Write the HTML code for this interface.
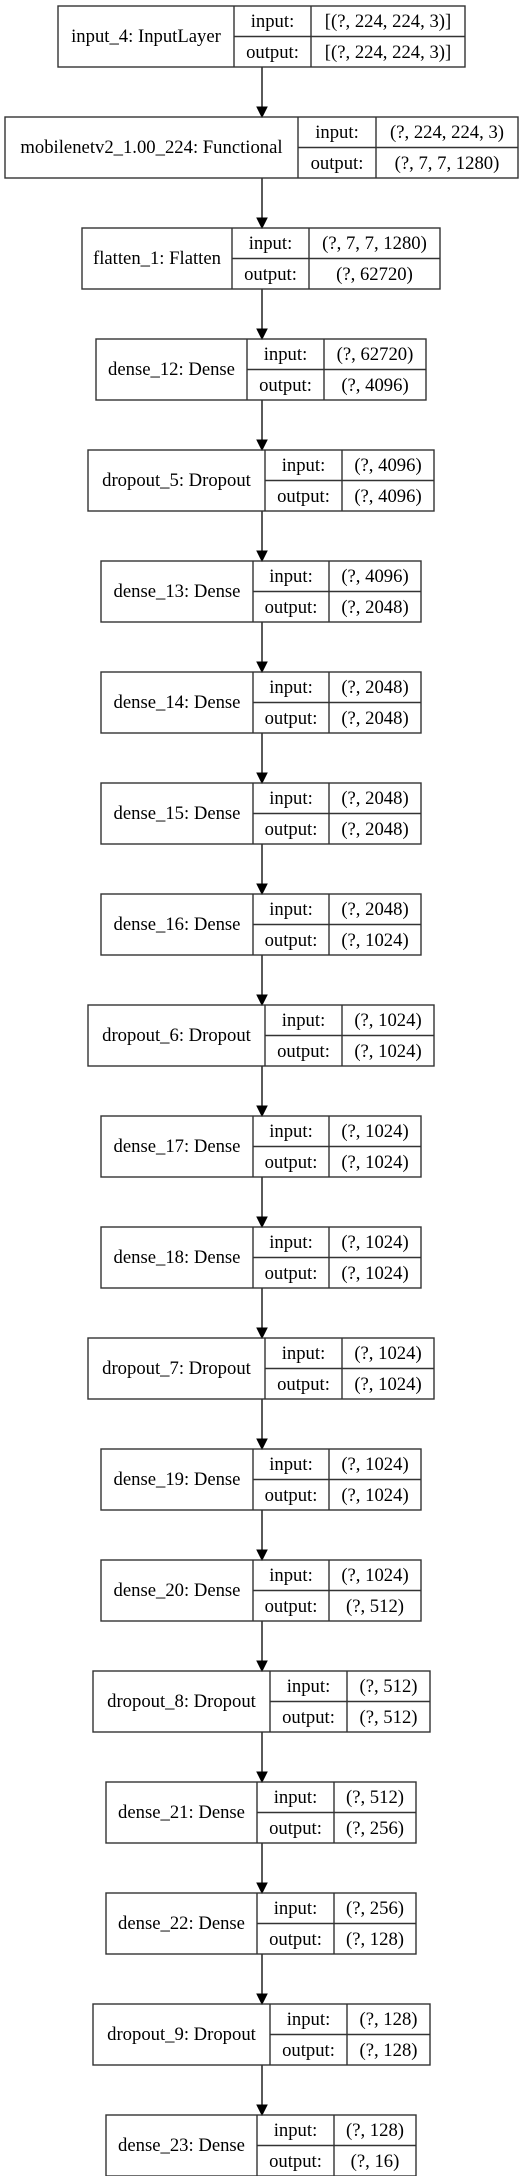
<!DOCTYPE html>
<html><head><meta charset="utf-8"><style>
html,body{margin:0;padding:0;background:#fff}
svg{display:block}
text{font-family:"Liberation Serif",serif;font-size:18.67px;fill:#000}
.b rect,.b line{stroke:#333;stroke-width:1.4;fill:none}
.a line{stroke:#000;stroke-width:1.3}
.a polygon{fill:#000;stroke:#000;stroke-width:1}
</style></head><body>
<svg width="525" height="2176" viewBox="0 0 525 2176" xmlns="http://www.w3.org/2000/svg">
<g class="a">
<line x1="262" y1="67" x2="262" y2="107"/><polygon points="257,107 267,107 262,117"/>
<line x1="262" y1="178" x2="262" y2="218"/><polygon points="257,218 267,218 262,228"/>
<line x1="262" y1="289" x2="262" y2="329"/><polygon points="257,329 267,329 262,339"/>
<line x1="262" y1="400" x2="262" y2="440"/><polygon points="257,440 267,440 262,450"/>
<line x1="262" y1="511" x2="262" y2="551"/><polygon points="257,551 267,551 262,561"/>
<line x1="262" y1="622" x2="262" y2="662"/><polygon points="257,662 267,662 262,672"/>
<line x1="262" y1="733" x2="262" y2="773"/><polygon points="257,773 267,773 262,783"/>
<line x1="262" y1="844" x2="262" y2="884"/><polygon points="257,884 267,884 262,894"/>
<line x1="262" y1="955" x2="262" y2="995"/><polygon points="257,995 267,995 262,1005"/>
<line x1="262" y1="1066" x2="262" y2="1106"/><polygon points="257,1106 267,1106 262,1116"/>
<line x1="262" y1="1177" x2="262" y2="1217"/><polygon points="257,1217 267,1217 262,1227"/>
<line x1="262" y1="1288" x2="262" y2="1328"/><polygon points="257,1328 267,1328 262,1338"/>
<line x1="262" y1="1399" x2="262" y2="1439"/><polygon points="257,1439 267,1439 262,1449"/>
<line x1="262" y1="1510" x2="262" y2="1550"/><polygon points="257,1550 267,1550 262,1560"/>
<line x1="262" y1="1621" x2="262" y2="1661"/><polygon points="257,1661 267,1661 262,1671"/>
<line x1="262" y1="1732" x2="262" y2="1772"/><polygon points="257,1772 267,1772 262,1782"/>
<line x1="262" y1="1843" x2="262" y2="1883"/><polygon points="257,1883 267,1883 262,1893"/>
<line x1="262" y1="1954" x2="262" y2="1994"/><polygon points="257,1994 267,1994 262,2004"/>
<line x1="262" y1="2065" x2="262" y2="2105"/><polygon points="257,2105 267,2105 262,2115"/>
</g>

<g class="b" transform="translate(0,6)">
<rect x="58" y="0" width="407" height="61"/><line x1="234" y1="0" x2="234" y2="61"/><line x1="311" y1="0" x2="311" y2="61"/><line x1="234" y1="30.5" x2="465" y2="30.5"/>
<text x="146" y="36" text-anchor="middle">input_4: InputLayer</text><text x="272.5" y="21" text-anchor="middle">input:</text><text x="272.5" y="52" text-anchor="middle">output:</text><text x="388" y="21" text-anchor="middle">[(?, 224, 224, 3)]</text><text x="388" y="52" text-anchor="middle">[(?, 224, 224, 3)]</text>
</g>
<g class="b" transform="translate(0,117)">
<rect x="5" y="0" width="513" height="61"/><line x1="298" y1="0" x2="298" y2="61"/><line x1="376" y1="0" x2="376" y2="61"/><line x1="298" y1="30.5" x2="518" y2="30.5"/>
<text x="151.5" y="36" text-anchor="middle">mobilenetv2_1.00_224: Functional</text><text x="337" y="21" text-anchor="middle">input:</text><text x="337" y="52" text-anchor="middle">output:</text><text x="447" y="21" text-anchor="middle">(?, 224, 224, 3)</text><text x="447" y="52" text-anchor="middle">(?, 7, 7, 1280)</text>
</g>
<g class="b" transform="translate(0,228)">
<rect x="82" y="0" width="358" height="61"/><line x1="232" y1="0" x2="232" y2="61"/><line x1="309" y1="0" x2="309" y2="61"/><line x1="232" y1="30.5" x2="440" y2="30.5"/>
<text x="157" y="36" text-anchor="middle">flatten_1: Flatten</text><text x="270.5" y="21" text-anchor="middle">input:</text><text x="270.5" y="52" text-anchor="middle">output:</text><text x="374.5" y="21" text-anchor="middle">(?, 7, 7, 1280)</text><text x="374.5" y="52" text-anchor="middle">(?, 62720)</text>
</g>
<g class="b" transform="translate(0,339)">
<rect x="96" y="0" width="330" height="61"/><line x1="247" y1="0" x2="247" y2="61"/><line x1="324" y1="0" x2="324" y2="61"/><line x1="247" y1="30.5" x2="426" y2="30.5"/>
<text x="171.5" y="36" text-anchor="middle">dense_12: Dense</text><text x="285.5" y="21" text-anchor="middle">input:</text><text x="285.5" y="52" text-anchor="middle">output:</text><text x="375" y="21" text-anchor="middle">(?, 62720)</text><text x="375" y="52" text-anchor="middle">(?, 4096)</text>
</g>
<g class="b" transform="translate(0,450)">
<rect x="88" y="0" width="346" height="61"/><line x1="265" y1="0" x2="265" y2="61"/><line x1="342" y1="0" x2="342" y2="61"/><line x1="265" y1="30.5" x2="434" y2="30.5"/>
<text x="176.5" y="36" text-anchor="middle">dropout_5: Dropout</text><text x="303.5" y="21" text-anchor="middle">input:</text><text x="303.5" y="52" text-anchor="middle">output:</text><text x="388" y="21" text-anchor="middle">(?, 4096)</text><text x="388" y="52" text-anchor="middle">(?, 4096)</text>
</g>
<g class="b" transform="translate(0,561)">
<rect x="101" y="0" width="320" height="61"/><line x1="253" y1="0" x2="253" y2="61"/><line x1="329" y1="0" x2="329" y2="61"/><line x1="253" y1="30.5" x2="421" y2="30.5"/>
<text x="177" y="36" text-anchor="middle">dense_13: Dense</text><text x="291" y="21" text-anchor="middle">input:</text><text x="291" y="52" text-anchor="middle">output:</text><text x="375" y="21" text-anchor="middle">(?, 4096)</text><text x="375" y="52" text-anchor="middle">(?, 2048)</text>
</g>
<g class="b" transform="translate(0,672)">
<rect x="101" y="0" width="320" height="61"/><line x1="253" y1="0" x2="253" y2="61"/><line x1="329" y1="0" x2="329" y2="61"/><line x1="253" y1="30.5" x2="421" y2="30.5"/>
<text x="177" y="36" text-anchor="middle">dense_14: Dense</text><text x="291" y="21" text-anchor="middle">input:</text><text x="291" y="52" text-anchor="middle">output:</text><text x="375" y="21" text-anchor="middle">(?, 2048)</text><text x="375" y="52" text-anchor="middle">(?, 2048)</text>
</g>
<g class="b" transform="translate(0,783)">
<rect x="101" y="0" width="320" height="61"/><line x1="253" y1="0" x2="253" y2="61"/><line x1="329" y1="0" x2="329" y2="61"/><line x1="253" y1="30.5" x2="421" y2="30.5"/>
<text x="177" y="36" text-anchor="middle">dense_15: Dense</text><text x="291" y="21" text-anchor="middle">input:</text><text x="291" y="52" text-anchor="middle">output:</text><text x="375" y="21" text-anchor="middle">(?, 2048)</text><text x="375" y="52" text-anchor="middle">(?, 2048)</text>
</g>
<g class="b" transform="translate(0,894)">
<rect x="101" y="0" width="320" height="61"/><line x1="253" y1="0" x2="253" y2="61"/><line x1="329" y1="0" x2="329" y2="61"/><line x1="253" y1="30.5" x2="421" y2="30.5"/>
<text x="177" y="36" text-anchor="middle">dense_16: Dense</text><text x="291" y="21" text-anchor="middle">input:</text><text x="291" y="52" text-anchor="middle">output:</text><text x="375" y="21" text-anchor="middle">(?, 2048)</text><text x="375" y="52" text-anchor="middle">(?, 1024)</text>
</g>
<g class="b" transform="translate(0,1005)">
<rect x="88" y="0" width="346" height="61"/><line x1="265" y1="0" x2="265" y2="61"/><line x1="342" y1="0" x2="342" y2="61"/><line x1="265" y1="30.5" x2="434" y2="30.5"/>
<text x="176.5" y="36" text-anchor="middle">dropout_6: Dropout</text><text x="303.5" y="21" text-anchor="middle">input:</text><text x="303.5" y="52" text-anchor="middle">output:</text><text x="388" y="21" text-anchor="middle">(?, 1024)</text><text x="388" y="52" text-anchor="middle">(?, 1024)</text>
</g>
<g class="b" transform="translate(0,1116)">
<rect x="101" y="0" width="320" height="61"/><line x1="253" y1="0" x2="253" y2="61"/><line x1="329" y1="0" x2="329" y2="61"/><line x1="253" y1="30.5" x2="421" y2="30.5"/>
<text x="177" y="36" text-anchor="middle">dense_17: Dense</text><text x="291" y="21" text-anchor="middle">input:</text><text x="291" y="52" text-anchor="middle">output:</text><text x="375" y="21" text-anchor="middle">(?, 1024)</text><text x="375" y="52" text-anchor="middle">(?, 1024)</text>
</g>
<g class="b" transform="translate(0,1227)">
<rect x="101" y="0" width="320" height="61"/><line x1="253" y1="0" x2="253" y2="61"/><line x1="329" y1="0" x2="329" y2="61"/><line x1="253" y1="30.5" x2="421" y2="30.5"/>
<text x="177" y="36" text-anchor="middle">dense_18: Dense</text><text x="291" y="21" text-anchor="middle">input:</text><text x="291" y="52" text-anchor="middle">output:</text><text x="375" y="21" text-anchor="middle">(?, 1024)</text><text x="375" y="52" text-anchor="middle">(?, 1024)</text>
</g>
<g class="b" transform="translate(0,1338)">
<rect x="88" y="0" width="346" height="61"/><line x1="265" y1="0" x2="265" y2="61"/><line x1="342" y1="0" x2="342" y2="61"/><line x1="265" y1="30.5" x2="434" y2="30.5"/>
<text x="176.5" y="36" text-anchor="middle">dropout_7: Dropout</text><text x="303.5" y="21" text-anchor="middle">input:</text><text x="303.5" y="52" text-anchor="middle">output:</text><text x="388" y="21" text-anchor="middle">(?, 1024)</text><text x="388" y="52" text-anchor="middle">(?, 1024)</text>
</g>
<g class="b" transform="translate(0,1449)">
<rect x="101" y="0" width="320" height="61"/><line x1="253" y1="0" x2="253" y2="61"/><line x1="329" y1="0" x2="329" y2="61"/><line x1="253" y1="30.5" x2="421" y2="30.5"/>
<text x="177" y="36" text-anchor="middle">dense_19: Dense</text><text x="291" y="21" text-anchor="middle">input:</text><text x="291" y="52" text-anchor="middle">output:</text><text x="375" y="21" text-anchor="middle">(?, 1024)</text><text x="375" y="52" text-anchor="middle">(?, 1024)</text>
</g>
<g class="b" transform="translate(0,1560)">
<rect x="101" y="0" width="320" height="61"/><line x1="253" y1="0" x2="253" y2="61"/><line x1="329" y1="0" x2="329" y2="61"/><line x1="253" y1="30.5" x2="421" y2="30.5"/>
<text x="177" y="36" text-anchor="middle">dense_20: Dense</text><text x="291" y="21" text-anchor="middle">input:</text><text x="291" y="52" text-anchor="middle">output:</text><text x="375" y="21" text-anchor="middle">(?, 1024)</text><text x="375" y="52" text-anchor="middle">(?, 512)</text>
</g>
<g class="b" transform="translate(0,1671)">
<rect x="93" y="0" width="337" height="61"/><line x1="270" y1="0" x2="270" y2="61"/><line x1="347" y1="0" x2="347" y2="61"/><line x1="270" y1="30.5" x2="430" y2="30.5"/>
<text x="181.5" y="36" text-anchor="middle">dropout_8: Dropout</text><text x="308.5" y="21" text-anchor="middle">input:</text><text x="308.5" y="52" text-anchor="middle">output:</text><text x="388.5" y="21" text-anchor="middle">(?, 512)</text><text x="388.5" y="52" text-anchor="middle">(?, 512)</text>
</g>
<g class="b" transform="translate(0,1782)">
<rect x="106" y="0" width="310" height="61"/><line x1="257" y1="0" x2="257" y2="61"/><line x1="334" y1="0" x2="334" y2="61"/><line x1="257" y1="30.5" x2="416" y2="30.5"/>
<text x="181.5" y="36" text-anchor="middle">dense_21: Dense</text><text x="295.5" y="21" text-anchor="middle">input:</text><text x="295.5" y="52" text-anchor="middle">output:</text><text x="375" y="21" text-anchor="middle">(?, 512)</text><text x="375" y="52" text-anchor="middle">(?, 256)</text>
</g>
<g class="b" transform="translate(0,1893)">
<rect x="106" y="0" width="310" height="61"/><line x1="257" y1="0" x2="257" y2="61"/><line x1="334" y1="0" x2="334" y2="61"/><line x1="257" y1="30.5" x2="416" y2="30.5"/>
<text x="181.5" y="36" text-anchor="middle">dense_22: Dense</text><text x="295.5" y="21" text-anchor="middle">input:</text><text x="295.5" y="52" text-anchor="middle">output:</text><text x="375" y="21" text-anchor="middle">(?, 256)</text><text x="375" y="52" text-anchor="middle">(?, 128)</text>
</g>
<g class="b" transform="translate(0,2004)">
<rect x="93" y="0" width="337" height="61"/><line x1="270" y1="0" x2="270" y2="61"/><line x1="347" y1="0" x2="347" y2="61"/><line x1="270" y1="30.5" x2="430" y2="30.5"/>
<text x="181.5" y="36" text-anchor="middle">dropout_9: Dropout</text><text x="308.5" y="21" text-anchor="middle">input:</text><text x="308.5" y="52" text-anchor="middle">output:</text><text x="388.5" y="21" text-anchor="middle">(?, 128)</text><text x="388.5" y="52" text-anchor="middle">(?, 128)</text>
</g>
<g class="b" transform="translate(0,2115)">
<rect x="106" y="0" width="310" height="61"/><line x1="257" y1="0" x2="257" y2="61"/><line x1="334" y1="0" x2="334" y2="61"/><line x1="257" y1="30.5" x2="416" y2="30.5"/>
<text x="181.5" y="36" text-anchor="middle">dense_23: Dense</text><text x="295.5" y="21" text-anchor="middle">input:</text><text x="295.5" y="52" text-anchor="middle">output:</text><text x="375" y="21" text-anchor="middle">(?, 128)</text><text x="375" y="52" text-anchor="middle">(?, 16)</text>
</g>
</svg>
</body></html>
